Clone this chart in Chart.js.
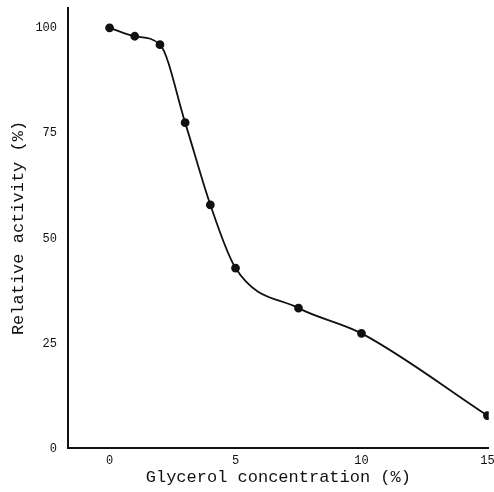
<!DOCTYPE html>
<html>
<head>
<meta charset="utf-8">
<script src="https://cdn.jsdelivr.net/npm/chart.js@4/dist/chart.umd.min.js"></script>
<style>
    html, body { margin: 0; padding: 0; background: #fff; }
    #wrap { width: 494px; height: 492px; }
</style>
</head>
<body>
<div id="wrap"><canvas id="activityChart"></canvas></div>
<script>
const concentration = [0, 1, 2, 3, 4, 5, 7.5, 10, 15];
const activity = [100, 98, 96, 77.5, 58, 43, 33.5, 27.5, 8];
const xTickValues = [0, 5, 10, 15];
const yTickValues = [0, 25, 50, 75, 100];

document.addEventListener('DOMContentLoaded', function () {
    const ctx = document.getElementById('activityChart').getContext('2d');
    const ink = '#111';
    const monoFont = "'Liberation Mono', 'DejaVu Sans Mono', monospace";

    new Chart(ctx, {
        type: 'line',
        data: {
            datasets: [{
                data: concentration.map((c, i) => ({ x: c, y: activity[i] })),
                borderColor: ink,
                backgroundColor: ink,
                borderWidth: 1.8,
                pointRadius: 3.5,
                pointHoverRadius: 3.5,
                cubicInterpolationMode: 'monotone',
                fill: false
            }]
        },
        options: {
            responsive: true,
            maintainAspectRatio: false,
            animation: false,
            layout: { padding: { left: 0, right: 5, top: 8, bottom: 0 } },
            plugins: {
                legend: { display: false },
                tooltip: { enabled: false }
            },
            scales: {
                x: {
                    type: 'linear',
                    min: -1.65,
                    max: 15.05,
                    afterBuildTicks: scale => { scale.ticks = xTickValues.map(v => ({ value: v })); },
                    afterFit: scale => {
                        scale.height = 44;
                        scale.paddingLeft = 0;
                        scale.paddingRight = 0;
                    },
                    grid: { display: false, drawOnChartArea: false, tickLength: 4, color: ink },
                    border: { color: ink, width: 2 },
                    ticks: {
                        color: ink,
                        padding: 2,
                        maxRotation: 0,
                        font: { family: monoFont, size: 12 }
                    },
                    title: {
                        display: true,
                        text: 'Glycerol concentration (%)',
                        color: ink,
                        padding: { top: 0, bottom: 4 },
                        font: { family: monoFont, size: 17 }
                    }
                },
                y: {
                    type: 'linear',
                    min: 0.3,
                    max: 104.7,
                    afterBuildTicks: scale => { scale.ticks = yTickValues.map(v => ({ value: v })); },
                    afterFit: scale => {
                        scale.width = 68;
                        scale.paddingTop = 0;
                        scale.paddingBottom = 0;
                    },
                    grid: { display: false, drawOnChartArea: false, tickLength: 4, color: ink },
                    border: { color: ink, width: 2 },
                    ticks: {
                        color: ink,
                        padding: 7,
                        font: { family: monoFont, size: 12 }
                    },
                    title: {
                        display: true,
                        text: 'Relative activity (%)',
                        color: ink,
                        padding: { top: 8, bottom: 0 },
                        font: { family: monoFont, size: 17 }
                    }
                }
            }
        }
    });
});
</script>
</body>
</html>
